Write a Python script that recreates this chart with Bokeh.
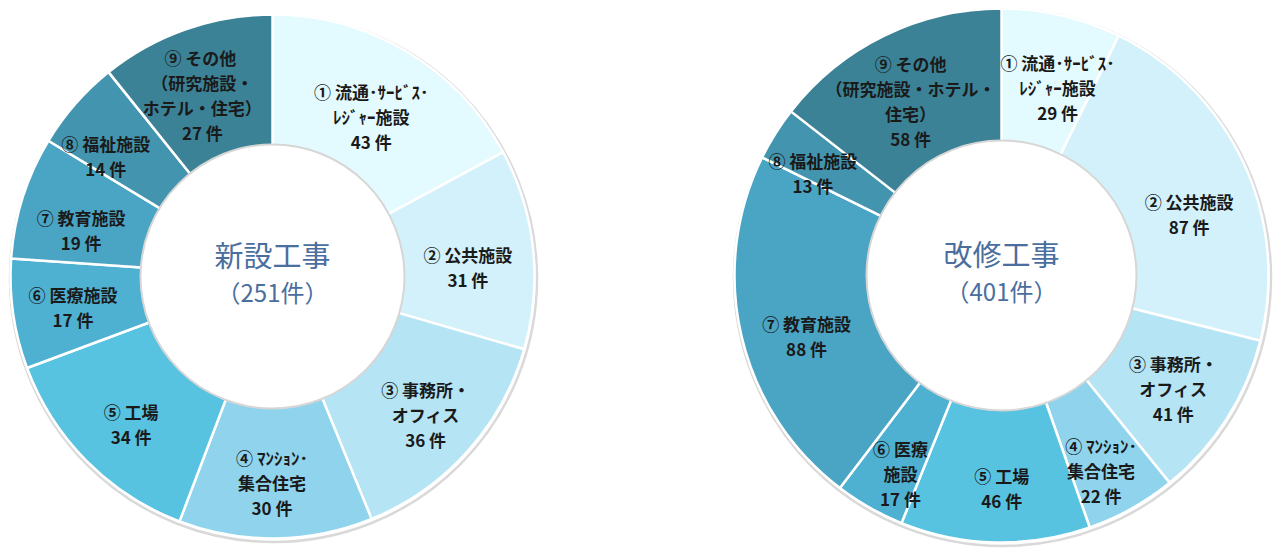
import math
from bokeh.plotting import figure
from bokeh.models import Range1d, ColumnDataSource
from bokeh.core.properties import value
from bokeh.embed import file_html
from bokeh.resources import INLINE

# ---------------- data ----------------
names_new = [
    "① 流通･ｻｰﾋﾞｽ･\nﾚｼﾞｬｰ施設",
    "② 公共施設",
    "③ 事務所・\nオフィス",
    "④ ﾏﾝｼｮﾝ･\n集合住宅",
    "⑤ 工場",
    "⑥ 医療施設",
    "⑦ 教育施設",
    "⑧ 福祉施設",
    "⑨  その他\n（研究施設・\nホテル・住宅）",
]
counts_new = [43, 31, 36, 30, 34, 17, 19, 14, 27]

names_reno = [
    "① 流通･ｻｰﾋﾞｽ･\nﾚｼﾞｬｰ施設",
    "② 公共施設",
    "③ 事務所・\nオフィス",
    "④ ﾏﾝｼｮﾝ･\n集合住宅",
    "⑤ 工場",
    "⑥ 医療\n施設",
    "⑦ 教育施設",
    "⑧ 福祉施設",
    "⑨ その他\n（研究施設・ホテル・\n住宅）",
]
counts_reno = [29, 87, 41, 22, 46, 17, 88, 13, 58]

title_new = "新設工事"
title_reno = "改修工事"
unit = "件"

# ---------------- styles / layout ----------------
colors = ["#E3FAFE", "#D2F1FB", "#B5E4F5", "#8FD4EC", "#57C3E0",
          "#4EB1D2", "#4AA5C4", "#4395AF", "#3B8297"]
FONT = "Noto Sans CJK JP"
W, H = 1280, 554

# label nudges in pixels (dx right, dy down) – layout only
nudge_new = [(-2, 9), (0, 11), (7, 7), (-3, 10), (-2, 9), (-5, 2), (-4, 13), (-19, 9), (-5, 4)]
nudge_reno = [(11, 7), (6, 23), (3, 5), (2, 20), (5, 12), (-2, 24), (0, 15), (-19, 4), (-3, 5)]

p = figure(width=W, height=H, x_range=Range1d(0, W), y_range=Range1d(0, H),
           x_axis_type=None, y_axis_type=None, toolbar_location=None,
           output_backend="svg", min_border=0, outline_line_color=None,
           background_fill_color="white", border_fill_color="white")
p.grid.visible = False


def donut(cx, cy, r_out, r_in, names, counts, nudges, title):
    total = sum(counts)
    starts, ends, lx, ly, texts = [], [], [], [], []
    cum = 0
    for name, c, (dx, dy) in zip(names, counts, nudges):
        a0 = 2 * math.pi * cum / total
        cum += c
        a1 = 2 * math.pi * cum / total
        starts.append(math.pi / 2 - a0)
        ends.append(math.pi / 2 - a1)
        mid = (a0 + a1) / 2
        rl = 0.75 * r_out
        lx.append(cx + rl * math.sin(mid) + dx)
        ly.append(cy + rl * math.cos(mid) - dy)
        texts.append(f"{name}\n{c} {unit}")
    # soft shadow ring
    p.circle(x=[cx + 1], y=[cy - 2], radius=r_out + 1.5, fill_color=None,
             line_color="#D9D9D9", line_width=2.5)
    src = ColumnDataSource(dict(start=starts, end=ends, color=colors[:len(counts)]))
    p.annular_wedge(x=cx, y=cy, inner_radius=r_in, outer_radius=r_out,
                    start_angle="start", end_angle="end", direction="clock",
                    fill_color="color", line_color="white", line_width=2.5,
                    source=src)
    # centre disc with subtle rim
    p.circle(x=[cx], y=[cy], radius=r_in + 1, fill_color="white",
             line_color="#D6D6D6", line_width=2)
    p.text(x=lx, y=ly, text=texts, text_align="center", text_baseline="middle",
           text_font=value(FONT), text_font_size="17px", text_font_style="bold",
           text_color="#1A1A1A", text_line_height=1.0)
    p.text(x=[cx], y=[cy + 23], text=[title], text_align="center",
           text_baseline="middle", text_font=value(FONT), text_font_size="29px",
           text_color="#4A6E9E")
    p.text(x=[cx], y=[cy - 15], text=[f"（{total}{unit}）"], text_align="center",
           text_baseline="middle", text_font=value(FONT), text_font_size="24px",
           text_color="#4A6E9E")


donut(272, 278, 262, 131, names_new, counts_new, nudge_new, title_new)
donut(1001, 279, 267, 134, names_reno, counts_reno, nudge_reno, title_reno)

open("out.html", "w").write(file_html(p, INLINE))
